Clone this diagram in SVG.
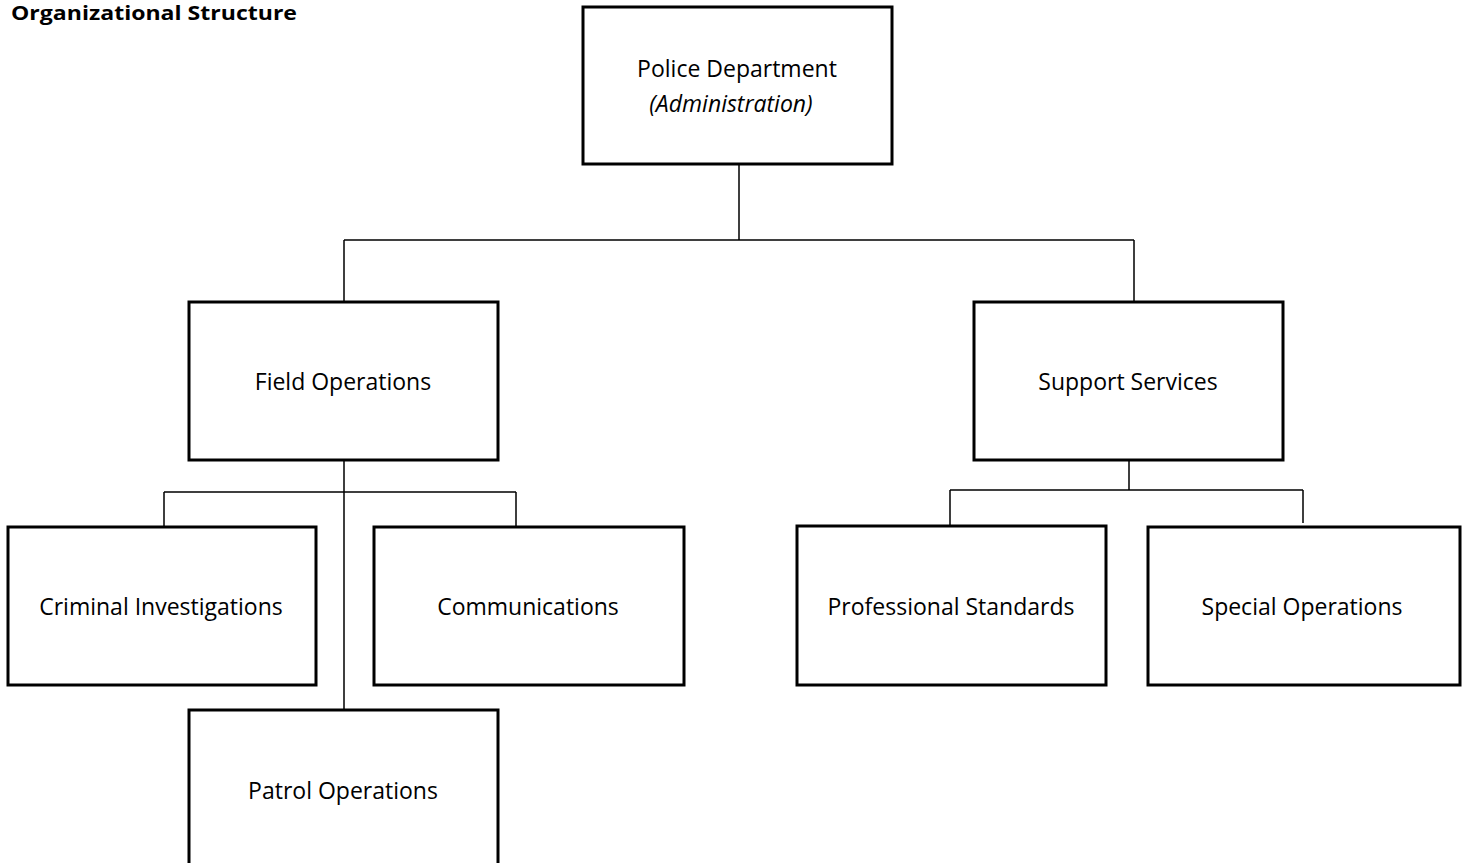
<svg xmlns="http://www.w3.org/2000/svg" width="1463" height="863" viewBox="0 0 1463 863">
<style>
.box{fill:#fff;stroke:#000;stroke-width:3}
.lbl{font-family:"Open Sans","Liberation Sans",sans-serif;font-size:23px;fill:#000;text-anchor:middle}
.it{font-style:italic}
.title{font-family:"Open Sans","Liberation Sans",sans-serif;font-size:22.5px;font-weight:bold;fill:#000}
.con{fill:none;stroke:#000;stroke-width:1.5}
</style>
<rect width="1463" height="863" fill="#fff"/>
<text class="title" x="11" y="20" textLength="286" lengthAdjust="spacingAndGlyphs" style="font-size:20px">Organizational Structure</text>
<g id="connectors">
<path class="con" d="M739 164V240M344 240H1134M344 240V302M1134 240V302"/>
<path class="con" d="M344 460V710M164 492H516M164 492V527M516 492V527"/>
<path class="con" d="M1129 460V490M950 490H1303M950 490V526M1303 490V523"/>
</g>
<g id="police-department"><rect class="box" x="583" y="7" width="309" height="157"/><text class="lbl" x="737" y="77">Police Department</text><text class="lbl it" x="731" y="112">(Administration)</text></g>
<g id="field-operations"><rect class="box" x="189" y="302" width="309" height="158"/><text class="lbl" x="343" y="390">Field Operations</text></g>
<g id="support-services"><rect class="box" x="974" y="302" width="309" height="158"/><text class="lbl" x="1128" y="390">Support Services</text></g>
<g id="criminal-investigations"><rect class="box" x="8" y="527" width="308" height="158"/><text class="lbl" x="161" y="615">Criminal Investigations</text></g>
<g id="communications"><rect class="box" x="374" y="527" width="310" height="158"/><text class="lbl" x="528" y="615">Communications</text></g>
<g id="patrol-operations"><rect class="box" x="189" y="710" width="309" height="160"/><text class="lbl" x="343" y="799">Patrol Operations</text></g>
<g id="professional-standards"><rect class="box" x="797" y="526" width="309" height="159"/><text class="lbl" x="951" y="615">Professional Standards</text></g>
<g id="special-operations"><rect class="box" x="1148" y="527" width="312" height="158"/><text class="lbl" x="1302" y="615">Special Operations</text></g>
</svg>
